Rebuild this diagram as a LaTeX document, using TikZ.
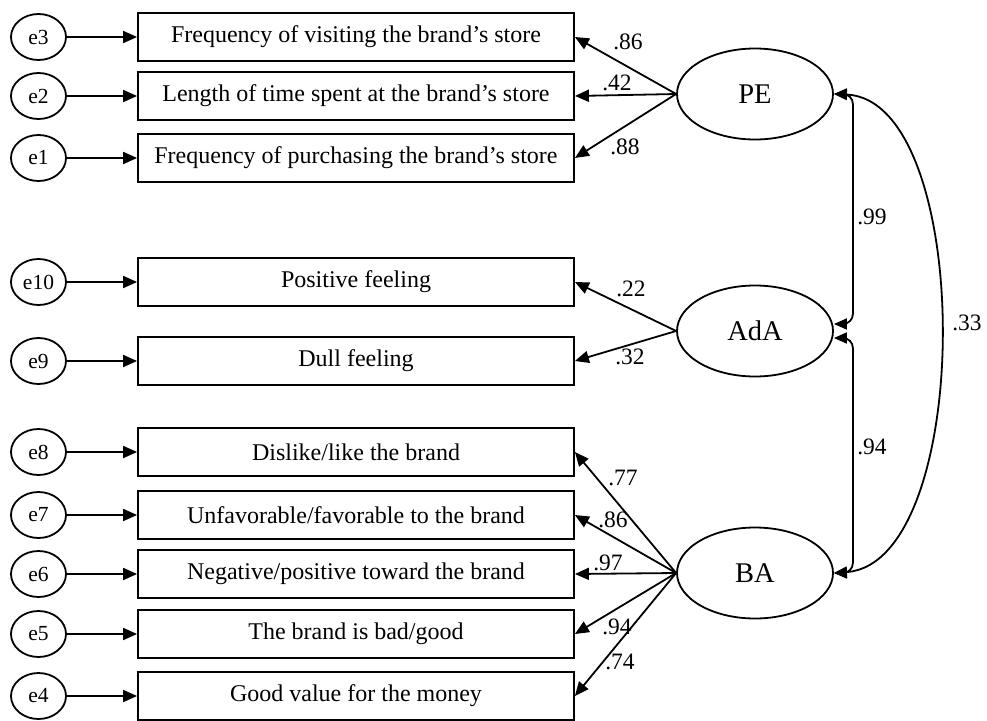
\documentclass[tikz,border=0pt]{standalone}
\usepackage{fontspec}
\setmainfont{Liberation Serif}
\usetikzlibrary{arrows.meta,shapes.geometric,calc}
\begin{document}
\begin{tikzpicture}[x=1pt,y=-1pt,
  line width=1.8pt,
  tip/.style={-{Triangle[length=14pt,width=12pt]}},
  covtip/.style={{Triangle[length=13pt,width=11pt]}-{Triangle[length=13pt,width=11pt]}},
  item/.style={draw, rectangle, minimum width=436pt, minimum height=48pt, inner sep=0pt,
    font=\fontsize{24}{28}\selectfont},
  err/.style={draw, ellipse, minimum width=55pt, minimum height=46pt, inner sep=0pt,
    font=\fontsize{21.5}{25}\selectfont},
  latent/.style={draw, ellipse, minimum width=156pt, minimum height=91pt, inner sep=0pt,
    font=\fontsize{28.5}{33}\selectfont},
  coef/.style={font=\fontsize{23.5}{27}\selectfont, inner sep=0pt}]
\useasboundingbox (0,0) rectangle (987,720);

% observed indicators
\node[item] (b3)  at (356,37)  {Frequency of visiting the brand’s store};
\node[item] (b2)  at (356,96)  {Length of time spent at the brand’s store};
\node[item] (b1)  at (356,158) {Frequency of purchasing the brand’s store};
\node[item] (b10) at (356,282) {Positive feeling};
\node[item] (b9)  at (356,361) {Dull feeling};
\node[item] (b8)  at (356,452) {Dislike/like the brand};
\node[item] (b7)  at (356,515) {Unfavorable/favorable to the brand};
\node[item] (b6)  at (356,574) {Negative/positive toward the brand};
\node[item] (b5)  at (356,634) {The brand is bad/good};
\node[item] (b4)  at (356,696) {Good value for the money};

% error terms
\node[err] (e3)  at (38.5,37)  {e3};
\node[err] (e2)  at (38.5,96)  {e2};
\node[err] (e1)  at (38.5,158) {e1};
\node[err] (e10) at (38.5,282) {e10};
\node[err] (e9)  at (38.5,361) {e9};
\node[err] (e8)  at (38.5,452) {e8};
\node[err] (e7)  at (38.5,515) {e7};
\node[err] (e6)  at (38.5,574) {e6};
\node[err] (e5)  at (38.5,634) {e5};
\node[err] (e4)  at (38.5,696) {e4};

\foreach \i in {1,...,10} \draw[tip] (e\i) -- (b\i);

% latent factors
\node[latent] (PE)  at (755,94)  {PE};
\node[latent] (AdA) at (755,331) {AdA};
\node[latent] (BA)  at (755,573) {BA};

% loadings
\foreach \i in {3,2,1} \draw[tip] (PE.west) -- (b\i.east);
\foreach \i in {10,9} \draw[tip] (AdA.west) -- (b\i.east);
\foreach \i in {8,7,6,5,4} \draw[tip] (BA.west) -- (b\i.east);

% covariances
\draw[covtip, rounded corners=10pt] (PE.east) -| ($(AdA.east)+(19,-7)$) -- ($(AdA.east)+(0,-7)$);
\draw[covtip, rounded corners=10pt] (BA.east) -| ($(AdA.east)+(19,7)$) -- ($(AdA.east)+(0,7)$);
\draw[covtip] (PE.east) .. controls (975,100) and (975,563) .. (BA.east);

% coefficients
\node[coef] (l1)  at (628,42)  {.86};
\node[coef] (l2)  at (617,83)  {.42};
\node[coef] (l3)  at (625,147) {.88};
\node[coef] (l4)  at (872,217) {.99};
\node[coef] (l5)  at (631,289) {.22};
\node[coef] (l6)  at (630,357) {.32};
\node[coef] (l7)  at (967,323) {.33};
\node[coef] (l8)  at (872,447) {.94};
\node[coef] (l9)  at (623,478) {.77};
\node[coef] (l10) at (613,520) {.86};
\node[coef] (l11) at (608,563) {.97};
\node[coef] (l12) at (617,627) {.94};
\node[coef] (l13) at (620,662) {.74};
\end{tikzpicture}
\end{document}
